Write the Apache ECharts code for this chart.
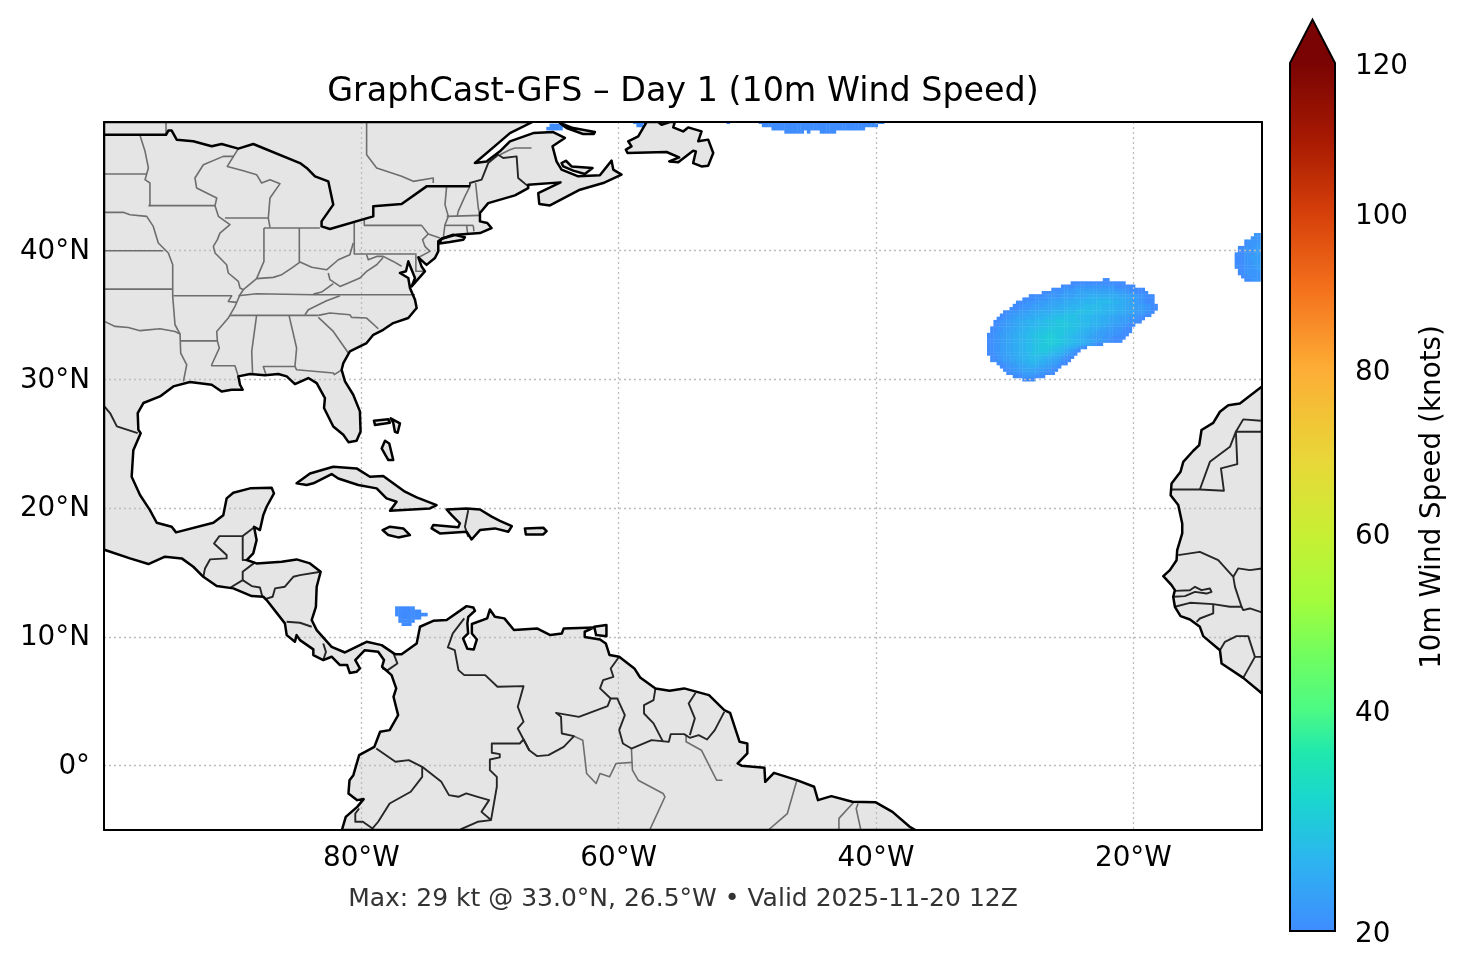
<!DOCTYPE html>
<html>

<head>
    <meta charset="utf-8">
    <title>GraphCast-GFS Day 1</title>
    <script src="https://cdn.jsdelivr.net/npm/echarts@6/dist/echarts.min.js"></script>
    <style>
        html, body { margin: 0; padding: 0; background: #fff; }
    </style>
</head>

<body>
    <div id="main" style="width: 1466px; height: 969px;"></div>
    <script>
        // axis ticks
        var lonTicks = [-80, -60, -40, -20];
        var latTicks = [0, 10, 20, 30, 40];
        var speedTicks = [20, 40, 60, 80, 100, 120];

        // colorbar stops, position is the normalised speed
        var colorStops = [
            [0, '#3f8cff'], [0.08, '#2db4f0'], [0.15, '#1ad6cf'], [0.205, '#1fe8ae'], [0.2535, '#4bfa85'],
            [0.32, '#72fe5e'], [0.38, '#a2fc3c'], [0.458, '#c8ef34'], [0.54, '#e8d838'], [0.648, '#fdad35'],
            [0.74, '#f4711c'], [0.826, '#d6400a'], [0.91, '#a81a02'], [1, '#7a0403']
        ];

        // wind field rows: lat, first lon, one digit per 0.25 deg cell (knots above 20)
        var atlanticBlob = [
            [37.75, -22.25, '00'],
            [37.5, -24.75, '00000000000000000'],
            [37.25, -25.5, '00001111111111111000000'],
            [37, -26.25, '00011112222222222222111100000'],
            [36.75, -27, '000111122223333333333332221110000'],
            [36.5, -28, '000001111122223333444444444433322211000'],
            [36.25, -28.5, '00001111222233334444555555554444332211000'],
            [36, -29, '0001111222233334444555555666665544332211000'],
            [35.75, -29.25, '000111222233334444555566666655554443332221100'],
            [35.5, -29.5, '0001112223333444455556666666655554443332221100'],
            [35.25, -30, '00111222333444455556666777776665555444333222110'],
            [35, -30.25, '00112223334445556666777766666555544433322211100'],
            [34.75, -30.5, '0011223334445556667777777666655544433322211100'],
            [34.5, -30.75, '0011223344555666777888877776665554443332221100'],
            [34.25, -30.75, '00112233444555666777888877766655544332221100'],
            [34, -31, '00112233445566677788888877766554443322211100'],
            [33.75, -31, '00112233445566777888888777665544332222111000'],
            [33.5, -31.25, '00112233445566778889988877665544332221111000'],
            [33.25, -31.25, '0011223344556677889998877665544332221110000'],
            [33, -31.25, '001122334455667788999988776655443322110000'],
            [32.75, -31.25, '001122334455667788999887766554432100'],
            [32.5, -31.25, '0011223344556677888877665544210'],
            [32.25, -31.25, '00112233445566778887766543210'],
            [32, -31.25, '0011223344556677777665543210'],
            [31.75, -31, '00112233445566665554432100'],
            [31.5, -31, '0011223344556665544332100'],
            [31.25, -30.5, '0011223344555443322100'],
            [31, -30.25, '0011223344443322110'],
            [30.75, -30, '00112233332221100'],
            [30.5, -29.75, '001112222211000'],
            [30.25, -29.25, '0001111000'],
            [30, -28.5, '0000']
        ];
        var easternBlob = [
            [41.25, -10.5, '11'],
            [41, -10.75, '111'],
            [40.75, -11.25, '01111'],
            [40.5, -11.25, '01112'],
            [40.25, -11.75, '0011122'],
            [40, -11.75, '0011122'],
            [39.75, -12, '00011122'],
            [39.5, -12, '00011222'],
            [39.25, -12, '00011222'],
            [39, -12, '00011122'],
            [38.75, -12, '00011122'],
            [38.5, -11.75, '0011112'],
            [38.25, -11.75, '0011111'],
            [38, -11.5, '001111'],
            [37.75, -11.25, '00111']
        ];
        var caribbeanBlob = [
            [12.25, -77.25, '000000'],
            [12, -77.25, '00000000'],
            [11.75, -77.25, '0000000000'],
            [11.5, -77, '0000000'],
            [11.25, -77, '00000'],
            [11, -76.75, '000']
        ];
        var northBlob = [
            [50, -49, '000000000000000000000000000000000000000'],
            [49.75, -48.75, '000000000000000000000000000000000000'],
            [49.5, -48, '00000000000000000000000000000'],
            [49.25, -47, '000000'],
            [49.25, -45.25, '0'],
            [49.25, -44.25, '00000'],
            [50, -51.5, '0'],
            [50, -58.75, '0000'],
            [49.75, -58.5, '00'],
            [49.75, -65.25, '00000'],
            [49.5, -65.5, '00000']
        ];

        // land outlines in lon, lat
        var americas = [[-100, 50], [-66.7, 50], [-68.45, 49.14], [-69.49, 48.24], [-71.17, 46.81], [-70.27, 46.94], [-69.23, 47.72], [-68.45, 48.5], [-66.64, 49.14], [-65.09, 49.22], [-64.18, 48.76], [-65.14, 48.11], [-64.83, 46.94], [-64.44, 46.3], [-63.14, 45.78], [-61.46, 45.86], [-60.55, 47], [-60.42, 46.3], [-59.78, 45.91], [-61.2, 45.26], [-63.01, 44.74], [-65.34, 43.52], [-66.17, 43.63], [-66.25, 44.48], [-64.52, 45.31], [-67.03, 45.13], [-67.03, 44.87], [-68.06, 44.3], [-70.14, 43.7], [-70.78, 42.93], [-70.78, 42.28], [-70.21, 42.15], [-69.88, 41.76], [-70.78, 41.37], [-72.6, 41.25], [-73.76, 40.93], [-74.02, 40.73], [-74.02, 39.95], [-74.28, 39.43], [-74.93, 38.9], [-75.57, 39.48], [-75.32, 38.78], [-75.06, 38.4], [-76.09, 37.23], [-75.83, 37.88], [-76.35, 39.17], [-76.53, 38.4], [-77, 38.27], [-76.35, 37.88], [-76.22, 37.1], [-75.83, 36.19], [-75.7, 35.55], [-76.35, 34.77], [-77.52, 34.38], [-78.3, 33.86], [-79.07, 33.47], [-79.59, 32.83], [-80.89, 32.18], [-81.4, 31.27], [-81.53, 30.75], [-81.27, 29.85], [-80.63, 28.81], [-80.11, 27.52], [-80.06, 25.96], [-80.37, 25.24], [-81, 25.13], [-81.4, 25.7], [-82.18, 26.35], [-82.9, 27.78], [-82.83, 28.55], [-83.47, 29.72], [-84.12, 30.11], [-85.16, 29.64], [-85.8, 30.24], [-86.45, 30.42], [-87.49, 30.32], [-88.65, 30.42], [-89.56, 30.24], [-89.43, 29.59], [-89.22, 29.2], [-90.08, 29.2], [-90.86, 29.07], [-91.63, 29.59], [-93.32, 29.8], [-94.61, 29.46], [-95.65, 28.68], [-96.94, 28.17], [-97.38, 27.39], [-97.33, 26.09], [-97.15, 25.83], [-97.72, 24.5], [-97.85, 22.44], [-97.2, 21.02], [-96.43, 19.85], [-95.9, 18.87], [-94.74, 18.56], [-94.4, 18.12], [-91.5, 18.87], [-90.73, 19.46], [-90.47, 20.76], [-89.95, 21.2], [-88.65, 21.54], [-86.97, 21.59], [-86.79, 21.15], [-87.36, 20.11], [-87.62, 19.46], [-87.88, 18.3], [-88.34, 18.56], [-88.14, 17.52], [-88.4, 16.49], [-88.91, 15.97], [-88.14, 15.71], [-86.19, 15.84], [-85.03, 16.02], [-83.99, 15.71], [-83.16, 15.06], [-83.47, 13.9], [-83.53, 12.34], [-83.86, 11.31], [-83.47, 10.53], [-82.31, 9.23], [-81.27, 8.79], [-79.59, 9.62], [-78.42, 9.36], [-77.39, 8.66], [-76.87, 8.66], [-75.7, 9.49], [-75.44, 10.79], [-74.41, 11.25], [-73.37, 11.31], [-71.82, 12.39], [-71.3, 12.29], [-71.17, 12.03], [-71.69, 11.56], [-71.76, 11.05], [-71.7, 10.27], [-72.09, 9.88], [-71.76, 9.08], [-71.26, 9.03], [-71.02, 9.8], [-71.41, 10.27], [-71.41, 11], [-70.22, 11.44], [-70.01, 12.13], [-69.62, 11.56], [-68.88, 11.44], [-68.14, 10.53], [-66.35, 10.66], [-65.31, 10.14], [-64.42, 10.27], [-64.27, 10.66], [-61.9, 10.74], [-62.64, 10.4], [-62.64, 10], [-61.45, 9.8], [-61, 9.49], [-60.71, 8.59], [-59.96, 8.46], [-58.78, 7.55], [-58.33, 6.85], [-57.14, 6], [-56.04, 5.81], [-54.91, 6], [-52.98, 5.48], [-51.79, 4.31], [-51.34, 4.1], [-50.6, 1.85], [-50, 1.72], [-50, 0.95], [-50.75, 0.17], [-50.45, 0], [-48.67, -0.17], [-48.61, -1.26], [-47.93, -0.56], [-46.15, -1.13], [-44.81, -1.64], [-44.51, -2.68], [-43.47, -2.37], [-41.84, -2.81], [-40.05, -2.84], [-38.72, -3.59], [-37.38, -4.75], [-36.93, -5], [-81.51, -5], [-81.21, -3.98], [-80.32, -3.2], [-79.82, -2.6], [-80.32, -2.68], [-81, -2.16], [-80.92, -1.13], [-80.62, -0.74], [-80.17, 0.82], [-78.99, 1.46], [-78.54, 2.63], [-77.8, 2.76], [-77.14, 3.92], [-77.5, 5.35], [-77.29, 6], [-77.65, 7.03], [-78.39, 7.68], [-78.24, 8.2], [-78.69, 8.85], [-79.73, 8.97], [-80.47, 8.2], [-80.11, 7.55], [-80.37, 7.29], [-80.9, 7.2], [-81.1, 7.81], [-81.66, 7.81], [-82.31, 8.46], [-82.96, 8.2], [-83.73, 8.59], [-83.73, 9.03], [-84.77, 9.75], [-85.03, 10.14], [-85.16, 9.62], [-85.8, 10.14], [-85.94, 11.05], [-87.36, 12.86], [-87.62, 13.12], [-88.52, 13.17], [-89.95, 13.77], [-91.24, 13.95], [-92.28, 14.67], [-93.06, 15.45], [-93.96, 16.1], [-95.26, 16.23], [-96.55, 15.66], [-97.98, 16.1], [-99.92, 16.75], [-100, 16.8]];
        var africa = [[-10, 29.45], [-11.72, 28.14], [-12.62, 28], [-13.27, 27.49], [-13.79, 26.63], [-14.7, 26.07], [-14.88, 24.9], [-15.34, 24.46], [-16.12, 23.6], [-16.33, 22.83], [-17.03, 21.92], [-17.1, 21], [-16.51, 20.24], [-16.2, 18.81], [-16.2, 18.04], [-16.59, 16.74], [-16.64, 15.96], [-17.16, 15.19], [-17.67, 14.72], [-17.03, 14.02], [-16.77, 13.63], [-16.9, 13.12], [-16.77, 12.34], [-16.33, 11.61], [-15.6, 11.35], [-14.83, 10.78], [-14.57, 10.06], [-13.27, 8.97], [-13.14, 7.93], [-11.46, 6.82], [-10.09, 5.68], [-10, 5.6]];
        var newfoundland = [[-57.83, 50], [-58.48, 48.89], [-59.26, 48.5], [-59, 48.11], [-59.44, 47.85], [-59.31, 47.59], [-56.28, 47.67], [-55.3, 47.25], [-56.07, 46.94], [-55.37, 46.87], [-54.21, 47.77], [-54, 47.72], [-54.21, 46.81], [-53.56, 46.55], [-53.04, 46.61], [-52.65, 47.59], [-53.04, 48.63], [-53.82, 48.5], [-53.56, 49.27], [-54.6, 49.58], [-54.99, 49.27], [-55.76, 49.58], [-55.63, 50], [-56.02, 50], [-56.67, 49.79], [-56.93, 50]];
        var princeEdward = [[-64.44, 46.81], [-64.1, 46.99], [-63.66, 46.55], [-62.03, 46.42], [-62.63, 45.96], [-63.53, 46.22], [-64.31, 46.55]];
        var anticosti = [[-64.57, 49.92], [-63.53, 49.53], [-61.85, 49.22], [-61.93, 49.07], [-62.76, 49.07], [-64.05, 49.53]];
        var longIsland = [[-73.76, 40.93], [-72.86, 41.25], [-71.95, 41.04], [-72.08, 40.86], [-73.12, 40.68], [-73.94, 40.57]];
        var cuba = [[-85.03, 21.93], [-83.99, 22.7], [-82.18, 23.22], [-80.37, 23.09], [-79.33, 22.44], [-78.3, 22.5], [-76.61, 21.28], [-75.7, 20.84], [-74.15, 20.24], [-74.67, 19.98], [-77.77, 19.8], [-77.26, 20.5], [-78.04, 20.76], [-78.81, 21.54], [-80.24, 21.8], [-81.79, 22.31], [-82.31, 22.65], [-83.73, 21.93], [-84.25, 21.8]];
        var hispaniola = [[-73.37, 19.9], [-71.82, 19.98], [-70.78, 19.9], [-69.87, 19.34], [-69.23, 19.02], [-68.3, 18.61], [-68.58, 18.17], [-69.62, 18.43], [-70.78, 18.3], [-71.43, 17.57], [-71.82, 18.17], [-73.89, 18.04], [-74.54, 18.43], [-74.41, 18.69], [-72.47, 18.51], [-72.34, 18.82], [-72.98, 19.46]];
        var jamaica = [[-78.35, 18.3], [-77.78, 18.56], [-76.74, 18.43], [-76.22, 17.91], [-77.13, 17.73], [-77.9, 17.91]];
        var puertoRico = [[-67.29, 18.43], [-65.86, 18.48], [-65.6, 18.22], [-65.86, 17.96], [-67.21, 17.96]];
        var grandBahama = [[-79.02, 26.8], [-77.9, 26.9], [-77.78, 26.64], [-78.94, 26.46]];
        var abaco = [[-77.72, 26.98], [-77, 26.59], [-77.18, 25.86], [-77.39, 25.94], [-77.52, 26.64]];
        var andros = [[-78.16, 25.24], [-77.83, 25.03], [-77.52, 23.74], [-77.9, 23.74], [-78.42, 24.64]];
        var trinidad = [[-61.9, 10.79], [-60.95, 10.92], [-60.95, 10.06], [-61.75, 10.14]];

        var landPolygons = [americas, africa, newfoundland, princeEdward, anticosti, longIsland, cuba, hispaniola, jamaica, puertoRico, grandBahama, abaco, andros, trinidad];

        // US-Canada line, drawn as heavy as the coast
        var heavyLines = [
            [[-99.97, 49], [-95.18, 49], [-95, 49.33], [-94.74, 49.33], [-94.35, 48.63], [-93.06, 48.5], [-91.63, 48.11], [-90.86, 48.29], [-89.56, 47.93], [-88.4, 48.29], [-84.77, 46.81], [-84.25, 46.43], [-83.6, 45.78], [-82.57, 45.39], [-82.18, 43.58], [-83.09, 42.28], [-83.09, 41.89], [-82.44, 41.69], [-79.07, 42.67], [-79.07, 43.45], [-76.87, 43.63], [-74.93, 45], [-71.56, 45]]
        ];

        var countryLines = [
            [[-71.56, 45], [-71.56, 45.26], [-70.65, 45.52], [-70.14, 46.81], [-69.36, 47.46], [-68.97, 47.2], [-67.93, 47.33], [-67.81, 45.65], [-67.03, 45]],
            [[-99.97, 27.9], [-99.53, 27.39], [-99, 26.35], [-97.38, 25.83]],
            // Mexico, Central America
            [[-92.28, 14.67], [-92.15, 15.32], [-91.76, 16.02], [-90.47, 16.1], [-90.47, 16.36], [-91.45, 17.26], [-91.03, 17.83], [-89.22, 17.83], [-89.22, 15.97], [-88.91, 15.97]],
            [[-89.22, 17.83], [-88.27, 18.56]],
            [[-88.27, 15.79], [-89.22, 15.06], [-89.22, 14.41], [-90.16, 13.84]],
            [[-89.22, 14.41], [-88.52, 13.95], [-87.88, 13.84], [-87.69, 13.12]],
            [[-83.16, 15.06], [-84.77, 14.8], [-85.29, 14.67], [-85.94, 13.9], [-86.71, 13.77], [-86.89, 13.12], [-87.49, 12.94]],
            [[-85.81, 11.18], [-84.77, 11.1], [-83.86, 10.79]],
            [[-82.96, 9.49], [-82.75, 8.84], [-82.96, 8.2]],
            [[-78.39, 7.55], [-77.95, 7.42], [-77.2, 7.94], [-77.5, 8.72]],
            [[-71.69, 19.85], [-71.95, 18.56], [-71.69, 17.78]],
            // South America
            [[-72, 11.44], [-72.89, 10.27], [-73.28, 9.18], [-72.74, 8.97], [-72.45, 7.42], [-72, 7.03], [-70.37, 7.03], [-69.42, 6.13], [-67.39, 6.18], [-67.84, 4.57], [-67.39, 3.41], [-67.84, 2.89], [-66.95, 1.2], [-66.35, 0.74], [-65.46, 0.82], [-64.27, 1.46], [-63.47, 2.29], [-64.42, 2.5], [-64.48, 3.79], [-64.87, 4.1], [-63.09, 3.79], [-60.86, 4.62], [-60.62, 5.22], [-60.11, 5.22], [-59.52, 3.92], [-59.96, 2.76], [-59.67, 1.72], [-59.01, 1.33], [-57.44, 1.98], [-56.1, 1.85], [-55.95, 2.45], [-54.91, 2.45], [-54.47, 2.16], [-53.78, 2.37], [-53.13, 2.03], [-52.53, 2.76], [-51.79, 4.18]],
            [[-59.96, 8.46], [-60.62, 7.55], [-60.41, 6.9], [-61.21, 6.64], [-61.45, 6], [-60.62, 5.22]],
            [[-57.14, 6], [-57.29, 5.09], [-58.03, 4.7], [-58.03, 4.05], [-57.29, 3.28], [-56.55, 1.85]],
            [[-54.02, 5.66], [-54.56, 4.83], [-54.08, 3.67], [-54.47, 2.37]],
            [[-66.95, 1.2], [-67.39, 2.03], [-67.69, 1.72], [-69.86, 1.72], [-69.86, 1], [-69.24, 0.89], [-69.24, 0.64], [-70.01, 0.48], [-70.01, -0.35], [-69.47, -0.87], [-69.47, -1.64], [-69.92, -4.23], [-70.96, -4.36], [-72.3, -4.96]],
            [[-69.92, -4.23], [-70.66, -3.59], [-70.07, -2.68], [-70.96, -2.42], [-71.85, -2.16], [-72.45, -2.42], [-73.19, -2.29], [-73.78, -1.26], [-75.27, -0.09], [-76.31, 0.43], [-77.35, 0.3], [-78.84, 1.33]],
            [[-75.27, -0.09], [-75.27, -0.87], [-76.16, -2.03], [-77.8, -2.94], [-78.69, -4.36], [-79.13, -4.88], [-79.88, -4.36], [-80.47, -4.36], [-80.47, -3.72], [-80.17, -3.33]],
            // West Africa
            [[-17.03, 21.45], [-14.83, 21.45], [-12.96, 21.35], [-13.19, 23.09], [-11.92, 23.42], [-12.03, 25.94], [-10, 25.94]],
            [[-14.83, 21.45], [-14.05, 23.6], [-12.49, 24.77], [-12.03, 25.94], [-11.46, 26.9], [-10.09, 26.79]],
            [[-16.51, 16.35], [-14.83, 16.61], [-13.4, 15.96], [-12.23, 14.67], [-12.1, 13.89], [-11.59, 12.34], [-12.49, 12.34], [-13.79, 12.55], [-15.6, 12.65], [-16.77, 12.34]],
            [[-12.23, 14.67], [-11.85, 15.32], [-10.94, 15.19], [-10, 15.32]],
            [[-11.59, 12.34], [-11.46, 12.08], [-10.94, 12.21], [-10, 11.9]],
            [[-16.77, 13.58], [-15.6, 13.63], [-15.21, 13.89], [-14.7, 13.63], [-14.05, 13.76], [-13.92, 13.5], [-14.31, 13.37], [-15.21, 13.5], [-15.99, 13.17], [-16.85, 13.12]],
            [[-13.79, 12.55], [-13.79, 11.82], [-14.83, 11.43], [-15.08, 11.17]],
            [[-13.27, 8.97], [-12.88, 9.62], [-11.98, 10.06], [-11.07, 10.06], [-10.55, 8.45], [-10, 8.45]],
            [[-10.55, 8.45], [-11.46, 6.82]]
        ];

        var stateLines = [
            // Canada
            [[-95.18, 50], [-95.18, 49]],
            [[-79.59, 50], [-79.59, 47.46], [-78.81, 46.43], [-76.87, 45.78], [-75.96, 45.39], [-74.41, 45.65], [-74.41, 45.26]],
            [[-69.23, 47.46], [-68.45, 47.85], [-68.06, 47.98], [-66.77, 47.98]],
            // plains
            [[-97.2, 48.96], [-96.81, 47.72], [-96.55, 46.43], [-96.81, 45.52], [-96.43, 45.26], [-96.43, 43.45]],
            [[-99.97, 45.96], [-96.68, 45.96]],
            [[-99.97, 42.98], [-98.5, 42.98], [-97.98, 42.8], [-96.68, 42.67], [-96.17, 41.89], [-95.78, 40.6], [-95, 39.82], [-94.66, 38.91], [-94.66, 36.45], [-94.48, 34.25], [-94.09, 33.53]],
            [[-96.55, 43.5], [-91.37, 43.5]],
            [[-99.97, 40], [-95.39, 40]],
            [[-99.97, 37.02], [-94.66, 37.02]],
            [[-99.97, 34.51], [-99.14, 34.12], [-98.11, 34.04], [-97.2, 33.79], [-95.65, 33.94], [-94.48, 33.73], [-94.09, 33.53], [-94.04, 32.05], [-93.57, 31.14], [-93.83, 29.85]],
            [[-94.04, 33], [-91.19, 33]],
            [[-94.61, 36.5], [-90.08, 36.5], [-90.34, 36.06], [-89.69, 35.99]],
            // Mississippi and the upper lakes
            [[-89.95, 47.33], [-90.73, 47.33], [-92.28, 46.68], [-92.93, 45.65], [-92.8, 44.87], [-91.24, 44.09], [-91.37, 43.5], [-91.11, 42.67], [-90.21, 42.02], [-90.99, 41.37], [-91.19, 40.86], [-91.5, 40.34], [-91.37, 39.82], [-90.47, 38.91], [-90.34, 38.27], [-89.56, 37.62], [-89.43, 37.1], [-89.17, 36.97], [-89.43, 36.58], [-89.82, 35.67], [-90.34, 34.77], [-91.24, 33.73], [-91.19, 33], [-91.04, 32.44], [-91.63, 31.14], [-91.63, 31.07], [-89.82, 31.07], [-89.56, 30.24]],
            [[-89.56, 47.93], [-90.42, 46.55], [-89.17, 46.22], [-88.14, 45.91], [-87.75, 45.26], [-87.1, 45.52], [-86.32, 45.21], [-87.1, 44.09], [-87.23, 42.54], [-87.1, 41.81]],
            [[-90.6, 42.54], [-87.23, 42.54]],
            // south
            [[-88.14, 34.98], [-88.52, 32.18], [-88.45, 30.42]],
            [[-85.62, 34.98], [-85.03, 32.44], [-85.16, 31.01]],
            [[-87.41, 30.37], [-87.62, 31.01], [-85.16, 31.01], [-85.03, 30.75], [-82.18, 30.5], [-82.1, 30.37], [-81.53, 30.75]],
            [[-90.21, 34.98], [-83.34, 34.98]],
            [[-84.38, 35.03], [-84.12, 35.42], [-82.7, 36.12], [-81.66, 36.5]],
            [[-89.56, 36.5], [-88.14, 36.66], [-83.73, 36.58], [-75.83, 36.58]],
            [[-83.34, 34.82], [-82.18, 33.73], [-81.01, 32.05]],
            [[-83.34, 34.98], [-82.44, 35.16], [-80.89, 35.03], [-80.76, 34.82], [-79.59, 34.77], [-78.68, 33.94]],
            // Ohio valley
            [[-89.17, 36.97], [-88.14, 37.83], [-86.84, 37.93], [-86.19, 38.14], [-85.42, 38.65], [-84.77, 39.12], [-83.86, 38.71], [-82.7, 38.52], [-81.79, 39.3], [-80.89, 39.69], [-80.63, 40.6]],
            [[-87.57, 41.76], [-87.57, 39.17], [-88.14, 37.83]],
            [[-84.82, 41.76], [-84.82, 39.12]],
            [[-87.57, 41.76], [-83.22, 41.76]],
            // mid Atlantic
            [[-80.55, 42.28], [-80.55, 39.74], [-75.7, 39.74]],
            [[-79.77, 42.41], [-79.77, 41.97], [-75.32, 41.97], [-74.8, 41.3], [-75.24, 40.86], [-75.06, 40.34], [-74.67, 39.95], [-75.57, 39.48]],
            [[-74.8, 41.3], [-73.89, 40.99]],
            [[-75.76, 39.69], [-75.76, 38.4], [-75.06, 38.4]],
            [[-79.59, 39.69], [-79.46, 39.3], [-78.81, 39.56], [-78.3, 39.56], [-77.52, 39.17], [-76.87, 38.79]],
            [[-78.3, 39.48], [-78.81, 38.91], [-79.59, 38.4], [-80.11, 37.88], [-81.01, 37.49], [-81.66, 37.23], [-82.44, 37.75], [-82.57, 38.27]],
            [[-83.73, 36.63], [-83.09, 36.79], [-82.18, 37.44]],
            // New England
            [[-73.37, 45], [-73.5, 43.58], [-73.24, 42.67], [-73.5, 42.02], [-73.63, 40.99]],
            [[-73.37, 42.67], [-70.78, 42.75]],
            [[-73.5, 41.97], [-71.3, 41.97]],
            [[-71.82, 41.97], [-71.74, 41.37]],
            [[-71.3, 41.97], [-71.25, 41.5]],
            [[-71.56, 45], [-71.95, 44.22], [-72.47, 43.06], [-72.55, 42.67]],
            [[-71.12, 45.26], [-70.91, 43.32], [-70.78, 42.8]],
            // Brazil
            [[-63.47, 2.29], [-62.79, 1.98], [-62.58, 0.17], [-62.49, -0.61], [-61.75, -1.39], [-61.45, -0.61], [-60.71, -0.87], [-60.2, 0.17], [-58.93, 0.25]],
            [[-59.01, 1.33], [-58.93, -0.35], [-58.48, -1.13], [-56.55, -2.16], [-56.4, -2.42], [-57.59, -5]],
            [[-54.76, 2.37], [-54.76, 1.85], [-53.57, 1.2], [-52.39, -1.13], [-51.94, -1.13]],
            [[-46.15, -1.13], [-46.89, -3.72], [-48.37, -5]],
            [[-41.69, -2.81], [-42.88, -4.1], [-42.88, -5]],
            [[-41.39, -2.94], [-41.54, -3.33], [-41.18, -5]]
        ];

        var speedMin = 20, speedMax = 120, gamma = 0.85;

        // colorbar scale is a power norm
        function speedNorm(v) {
            return Math.pow((v - speedMin) / (speedMax - speedMin), gamma);
        }

        function speedColor(v) {
            var t = speedNorm(v);
            for (var i = 1; i < colorStops.length; i++) {
                if (t <= colorStops[i][0]) {
                    var a = colorStops[i - 1], b = colorStops[i];
                    var k = (t - a[0]) / (b[0] - a[0]);
                    return echarts.color.lerp(k, [a[1], b[1]]);
                }
            }
            return colorStops[colorStops.length - 1][1];
        }

        var windRows = atlanticBlob.concat(easternBlob, caribbeanBlob, northBlob);
        var windCells = [];
        windRows.forEach(function (row) {
            row[2].split('').forEach(function (d, i) {
                windCells.push([row[1] + i * 0.25, row[0], speedMin + Number(d)]);
            });
        });

        // polygons or polylines in map coordinates, one data item per path
        function pathSeries(paths, closed, style, z) {
            return {
                type: 'custom',
                coordinateSystem: 'cartesian2d',
                xAxisIndex: 0,
                yAxisIndex: 0,
                clip: true,
                silent: true,
                z: z,
                data: paths.map(function (p) { return p[0]; }),
                renderItem: function (params, api) {
                    return {
                        type: closed ? 'polygon' : 'polyline',
                        shape: { points: paths[params.dataIndex].map(function (p) { return api.coord(p); }) },
                        style: style
                    };
                }
            };
        }

        var myChart = echarts.init(document.getElementById('main'), null, { renderer: 'canvas' });
        var font = '"DejaVu Sans"';
        var tickSize = 27.8;

        myChart.setOption({
            animation: false,
            backgroundColor: '#fff',
            textStyle: { fontFamily: font },
            title: [{
                text: 'GraphCast-GFS – Day 1 (10m Wind Speed)',
                left: 678, top: 71, textAlign: 'center',
                textStyle: { fontFamily: font, fontSize: 33.35, fontWeight: 'normal', color: '#000' }
            }, {
                text: 'Max: 29 kt @ 33.0°N, 26.5°W • Valid 2025-11-20 12Z',
                left: 678, top: 882, textAlign: 'center',
                textStyle: { fontFamily: font, fontSize: 25, fontWeight: 'normal', color: '#333' }
            }],
            grid: [
                { left: 104, top: 122, width: 1158, height: 708 },
                { left: 1290, top: 63, width: 45, height: 868 }
            ],
            xAxis: [{
                type: 'value', gridIndex: 0, min: -100, max: -10, position: 'bottom', z: 3,
                axisLine: { show: true, onZero: false, lineStyle: { color: '#000', width: 2 } },
                axisTick: { show: false, customValues: lonTicks },
                axisLabel: {
                    customValues: lonTicks, margin: 15, fontSize: tickSize, color: '#000', fontFamily: font,
                    formatter: function (v) { return Math.abs(v) + '°W'; }
                },
                splitLine: { show: true, lineStyle: { color: '#bdbdbd', type: [2, 3], width: 1.3 } }
            }, {
                type: 'value', gridIndex: 0, min: -100, max: -10, position: 'top', z: 3,
                axisLine: { show: true, onZero: false, lineStyle: { color: '#000', width: 2 } },
                axisTick: { show: false }, axisLabel: { show: false }, splitLine: { show: false }
            }, {
                type: 'value', gridIndex: 1, min: 0, max: 1, show: false
            }],
            yAxis: [{
                type: 'value', gridIndex: 0, min: -5, max: 50, position: 'left', z: 3,
                axisLine: { show: true, onZero: false, lineStyle: { color: '#000', width: 2 } },
                axisTick: { show: false, customValues: latTicks },
                axisLabel: {
                    customValues: latTicks, margin: 14, color: '#000',
                    rich: { t: { fontFamily: font, fontSize: tickSize, color: '#000', padding: [2, 0, 0, 0] } },
                    formatter: function (v) { return '{t|' + (v === 0 ? '0°' : v + '°N') + '}'; }
                },
                splitLine: { show: true, lineStyle: { color: '#bdbdbd', type: [2, 3], width: 1.3 } }
            }, {
                type: 'value', gridIndex: 0, min: -5, max: 50, position: 'right', z: 3,
                axisLine: { show: true, onZero: false, lineStyle: { color: '#000', width: 2 } },
                axisTick: { show: false }, axisLabel: { show: false }, splitLine: { show: false }
            }, {
                type: 'value', gridIndex: 1, min: 0, max: 1, position: 'right', z: 5,
                name: '10m Wind Speed (knots)', nameLocation: 'middle', nameRotate: 90, nameGap: 84,
                nameTextStyle: { fontFamily: font, fontSize: tickSize, color: '#000' },
                axisLine: { show: false },
                axisTick: {
                    show: true, length: 10, customValues: speedTicks.map(speedNorm),
                    lineStyle: { color: '#000', width: 2 }
                },
                axisLabel: {
                    customValues: speedTicks.map(speedNorm), margin: 20, color: '#000',
                    rich: { t: { fontFamily: font, fontSize: tickSize, color: '#000', padding: [8, 0, 0, 0] } },
                    formatter: function (v) {
                        return '{t|' + Math.round(speedMin + Math.pow(v, 1 / gamma) * (speedMax - speedMin)) + '}';
                    }
                },
                splitLine: { show: false }
            }],
            series: [
                pathSeries(landPolygons, true, { fill: '#e5e5e5', stroke: null }, 1),
                {
                    type: 'custom',
                    coordinateSystem: 'cartesian2d',
                    xAxisIndex: 0,
                    yAxisIndex: 0,
                    clip: true,
                    silent: true,
                    z: 2,
                    data: windCells,
                    renderItem: function (params, api) {
                        var p = api.coord([api.value(0) - 0.125, api.value(1) + 0.125]);
                        var s = api.size([0.25, 0.25]);
                        return {
                            type: 'rect',
                            shape: { x: p[0], y: p[1], width: s[0] + 0.4, height: s[1] + 0.4 },
                            style: { fill: speedColor(api.value(2)) }
                        };
                    }
                },
                pathSeries(stateLines, false, { fill: null, stroke: '#6e6e6e', lineWidth: 1.6, lineJoin: 'round' }, 4),
                pathSeries(countryLines, false, { fill: null, stroke: '#262626', lineWidth: 1.9, lineJoin: 'round' }, 5),
                pathSeries(heavyLines, false, { fill: null, stroke: '#000', lineWidth: 2.5, lineJoin: 'round' }, 6),
                pathSeries(landPolygons, true, { fill: null, stroke: '#000', lineWidth: 2.5, lineJoin: 'round' }, 6),
                {
                    // colorbar with its extend triangle
                    type: 'custom',
                    coordinateSystem: 'cartesian2d',
                    xAxisIndex: 2,
                    yAxisIndex: 2,
                    clip: false,
                    silent: true,
                    z: 6,
                    data: [[0, 0]],
                    renderItem: function (params, api) {
                        var bl = api.coord([0, 0]), tr = api.coord([1, 1]), tip = api.coord([0.5, 1.05]);
                        var tl = [bl[0], tr[1]], br = [tr[0], bl[1]];
                        return {
                            type: 'group',
                            children: [{
                                type: 'polygon',
                                shape: { points: [tl, tip, tr] },
                                style: { fill: '#7a0403' }
                            }, {
                                type: 'rect',
                                shape: { x: bl[0], y: tr[1], width: tr[0] - bl[0], height: bl[1] - tr[1] },
                                style: {
                                    fill: new echarts.graphic.LinearGradient(0, 1, 0, 0, colorStops.map(function (c) {
                                        return { offset: c[0], color: c[1] };
                                    }))
                                }
                            }, {
                                type: 'polygon',
                                shape: { points: [bl, tl, tip, tr, br] },
                                style: { fill: null, stroke: '#000', lineWidth: 2 }
                            }]
                        };
                    }
                }
            ]
        });
    </script>
</body>

</html>
